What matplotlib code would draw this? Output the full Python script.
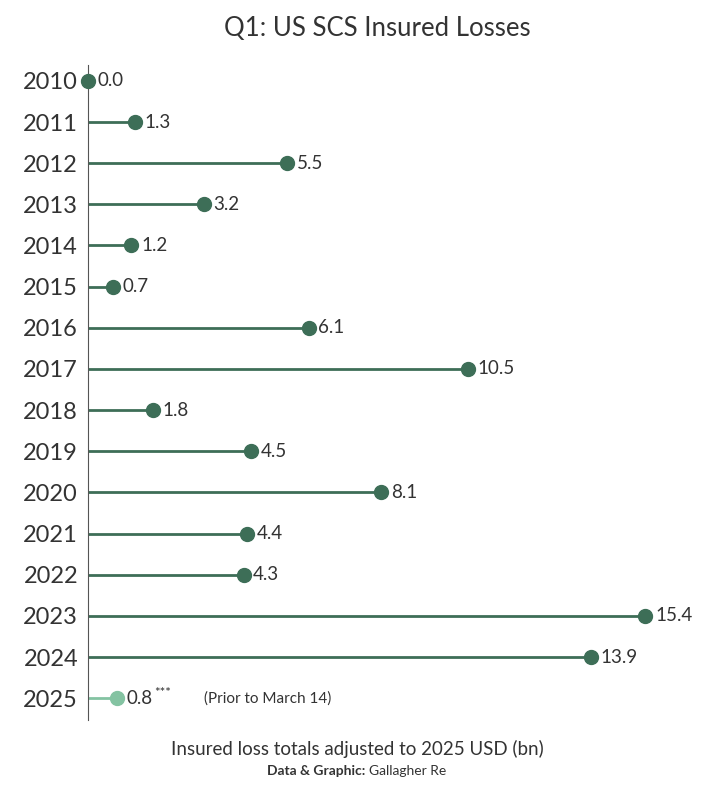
import numpy as np
import matplotlib
matplotlib.use("Agg")
import matplotlib.pyplot as plt

years = ["2010", "2011", "2012", "2013", "2014", "2015", "2016", "2017",
         "2018", "2019", "2020", "2021", "2022", "2023", "2024", "2025"]
losses = [0.0, 1.3, 5.5, 3.2, 1.2, 0.7, 6.1, 10.5,
          1.8, 4.5, 8.1, 4.4, 4.3, 15.4, 13.9, 0.8]

dark = "#3d6e57"
light = "#84c3a2"
txt = "#333333"

plt.rcParams["font.family"] = ["Lato", "DejaVu Sans"]

fig = plt.figure(figsize=(7.14, 8.0), dpi=100)
ax = fig.add_axes([0.123, 0.10, 0.857, 0.819])

y = np.arange(len(years))
for i, (yr, v) in enumerate(zip(years, losses)):
    c = light if yr == "2025" else dark
    ax.hlines(i, 0, v, color=c, linewidth=2)
    ax.plot(v, i, "o", color=c, markersize=10, clip_on=False, zorder=3)
    ax.annotate(f"{v:.1f}", (v, i), xytext=(7, 0), textcoords="offset points",
                va="center", ha="left", fontsize=13.5, color=txt)
    if yr == "2025":
        ax.annotate("***", (v, i), xytext=(27, 4), textcoords="offset points",
                    va="center", ha="left", fontsize=9.5, color=txt)
        ax.annotate("(Prior to March 14)", (v, i), xytext=(63, 0), textcoords="offset points",
                    va="center", ha="left", fontsize=11, color=txt)

ax.set_xlim(0, 16.9)
ax.set_ylim(15.53, -0.39)
ax.set_yticks(y)
ax.set_yticklabels(years, fontsize=17, color=txt)
ax.tick_params(axis="y", length=0, pad=7)
ax.set_xticks([])
for s in ["top", "right", "bottom"]:
    ax.spines[s].set_visible(False)
ax.spines["left"].set_color("#555555")
ax.spines["left"].set_linewidth(0.8)

fig.text(0.528, 0.964, "Q1: US SCS Insured Losses", ha="center", va="center",
         fontsize=18.5, color=txt)
fig.text(0.5, 0.064, "Insured loss totals adjusted to 2025 USD (bn)", ha="center",
         va="center", fontsize=13.5, color=txt)

t1 = fig.text(0.5, 0.036, "Data & Graphic: ", ha="right", va="center",
              fontsize=10, fontweight="bold", color=txt)
t2 = fig.text(0.5, 0.036, "Gallagher Re", ha="left", va="center",
              fontsize=10, color=txt)
fig.canvas.draw()
r = fig.canvas.get_renderer()
w1 = t1.get_window_extent(r).width / fig.bbox.width
w2 = t2.get_window_extent(r).width / fig.bbox.width
shift = (w1 - w2) / 2
t1.set_x(0.5 + shift)
t2.set_x(0.5 + shift)

fig.savefig("out.png", dpi=100)
